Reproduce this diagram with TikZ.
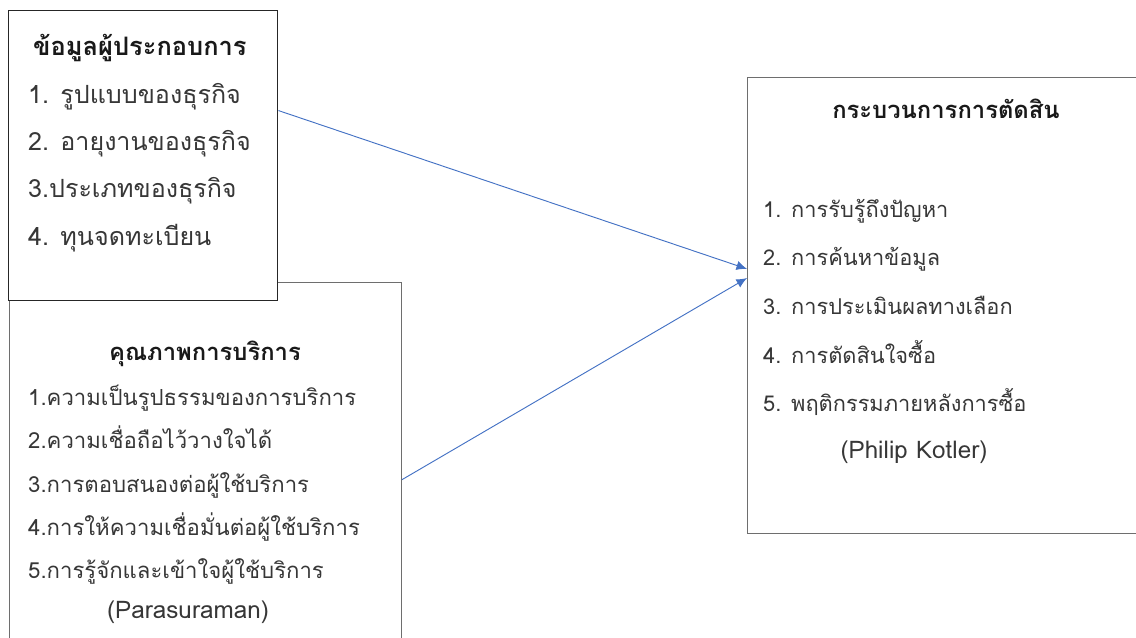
\documentclass[tikz,border=0pt]{standalone}
\usepackage{fontspec}
\newfontfamily\thaifont[Script=Thai]{Loma}
\usetikzlibrary{arrows.meta,calc}
\definecolor{linkblue}{RGB}{68,114,196}
\definecolor{framegray}{RGB}{110,110,110}
\definecolor{inkgray}{RGB}{55,55,55}
\tikzset{
    frontbox/.style={draw=black!85,line width=1.2pt,fill=white,inner sep=0pt,anchor=north west},
    backbox/.style={draw=framegray,line width=0.8pt,inner sep=0pt,anchor=north west},
    headtext/.style={font=\thaifont\bfseries\fontsize{20.3}{24}\selectfont,text=black!90,inner sep=0pt,anchor=base},
    bighead/.style={headtext,font=\thaifont\bfseries\fontsize{21.7}{26}\selectfont,anchor=base west},
    itemtext/.style={font=\thaifont\fontsize{18.6}{22}\selectfont,text=inkgray,inner sep=0pt,anchor=base west},
    largeitem/.style={itemtext,font=\thaifont\fontsize{21.4}{25}\selectfont},
    smallitem/.style={itemtext,font=\thaifont\fontsize{18.9}{22}\selectfont},
    sourcetext/.style={itemtext,font=\thaifont\fontsize{20.7}{24}\selectfont,anchor=base},
    linkarrow/.style={-{Latex[length=9pt,width=8pt]},linkblue,line width=0.8pt}
}
\begin{document}
\begin{tikzpicture}[x=0.03cm,y=-0.03cm]
    \useasboundingbox (0,0) rectangle (1136,637);
    \clip (0,0) rectangle (1136,637);
    % Service quality (behind)
    \node[backbox,minimum width=11.76cm,minimum height=11.6cm] (servbox) at (9,282) {};
    \node[headtext] (servhead) at (205,360) {คุณภาพการบริการ};
    \node[smallitem] (serv1) at (28,405) {1.ความเป็นรูปธรรมของการบริการ};
    \node[smallitem] (serv2) at (28,448) {2.ความเชื่อถือไว้วางใจได้};
    \node[smallitem] (serv3) at (28,492) {3.การตอบสนองต่อผู้ใช้บริการ};
    \node[smallitem] (serv4) at (28,535) {4.การให้ความเชื่อมั่นต่อผู้ใช้บริการ};
    \node[smallitem] (serv5) at (28,578) {5.การรู้จักและเข้าใจผู้ใช้บริการ};
    \node[sourcetext] (servsrc) at (188,618) {(Parasuraman)};
    % Entrepreneur data (front)
    \node[frontbox,minimum width=8.07cm,minimum height=8.7cm] (infobox) at (8,10) {};
    \node[bighead] (infohead) at (33,55) {ข้อมูลผู้ประกอบการ};
    \node[largeitem] (info1) at (28,103) {1. รูปแบบของธุรกิจ};
    \node[largeitem] (info2) at (28,150) {2. อายุงานของธุรกิจ};
    \node[largeitem] (info3) at (28,197) {3.ประเภทของธุรกิจ};
    \node[largeitem] (info4) at (28,245) {4. ทุนจดทะเบียน};
    % Decision process
    \node[backbox,minimum width=12.3cm,minimum height=13.68cm] (decbox) at (747,77) {};
    \node[headtext] (dechead) at (946,118) {กระบวนการการตัดสิน};
    \node[itemtext] (dec1) at (763,217) {1. การรับรู้ถึงปัญหา};
    \node[itemtext] (dec2) at (763,265) {2. การค้นหาข้อมูล};
    \node[itemtext] (dec3) at (763,314) {3. การประเมินผลทางเลือก};
    \node[itemtext] (dec4) at (763,363) {4. การตัดสินใจซื้อ};
    \node[itemtext] (dec5) at (763,411) {5. พฤติกรรมภายหลังการซื้อ};
    \node[sourcetext] (decsrc) at (914,458) {(Philip Kotler)};
    % Arrow ends
    \coordinate (infoout) at ($(infobox.north east)!0.345!(infobox.south east)$);
    \coordinate (servout) at ($(servbox.north east)!0.51!(servbox.south east)$);
    \coordinate (decinA) at ($(decbox.north west)!0.42!(decbox.south west)$);
    \coordinate (decinB) at ($(decbox.north west)!0.44!(decbox.south west)$);
    \draw[linkarrow] (infoout) -- (decinA);
    \draw[linkarrow] (servout) -- (decinB);
\end{tikzpicture}
\end{document}
